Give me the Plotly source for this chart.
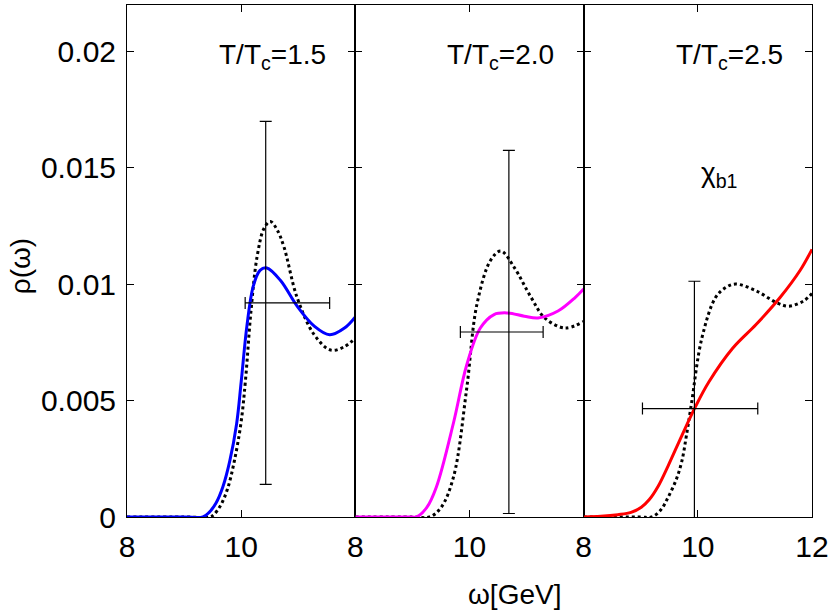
import plotly.graph_objects as go
from plotly.subplots import make_subplots

# --- data (omega in GeV, rho) ---
# T/Tc = 1.5
w_15 = [8.0, 9.0, 9.33, 9.44, 9.56, 9.68, 9.80, 9.92, 10.0, 10.1, 10.21, 10.33, 10.45,
        10.69, 10.98, 11.28, 11.55, 11.81, 12.0]
rho_15 = [0.0, 0.0, 0.0, 0.0002, 0.0006, 0.0013, 0.0024, 0.0040, 0.0058, 0.0082, 0.0099,
          0.0106, 0.0107, 0.01016, 0.00906, 0.0082, 0.00783, 0.00812, 0.0086]
w_15_free = [8.0, 9.0, 9.45, 9.52, 9.64, 9.76, 9.88, 10.0, 10.08, 10.17, 10.28, 10.40,
             10.51, 10.63, 10.75, 10.98, 11.28, 11.57, 11.81, 12.0]
rho_15_free = [0.0, 0.0, 0.0, 0.0001, 0.0005, 0.0012, 0.0024, 0.0041, 0.0060, 0.0088,
               0.0112, 0.0124, 0.0127, 0.01234, 0.0116, 0.00943, 0.00783, 0.00717,
               0.00732, 0.00769]

# T/Tc = 2.0
w_20 = [8.0, 9.0, 9.07, 9.25, 9.42, 9.72, 9.95, 10.19, 10.43, 10.66, 10.96, 11.20,
        11.55, 11.85, 12.0]
rho_20 = [0.0, 0.0, 0.0, 0.0004, 0.00129, 0.00405, 0.00652, 0.00812, 0.0087, 0.00877,
          0.00863, 0.00855, 0.00885, 0.00943, 0.0098]
w_20_free = [8.0, 9.0, 9.3, 9.5, 9.72, 9.95, 10.13, 10.37, 10.55, 10.78, 11.08, 11.32,
             11.67, 12.0]
rho_20_free = [0.0, 0.0, 0.0, 0.0004, 0.00172, 0.0055, 0.00914, 0.01103, 0.01143,
               0.01074, 0.00943, 0.00855, 0.00812, 0.0084]

# T/Tc = 2.5
w_25 = [8.0, 8.3, 8.6, 8.83, 9.01, 9.15, 9.30, 9.48, 9.72, 9.95, 10.19, 10.61, 11.02,
        11.44, 11.79, 12.0]
rho_25 = [0.0, 0.00003, 0.0001, 0.0002, 0.00042, 0.00075, 0.0013, 0.0022, 0.0035,
          0.0047, 0.00579, 0.00725, 0.00827, 0.00943, 0.01059, 0.0115]
w_25_free = [8.0, 9.0, 9.19, 9.35, 9.48, 9.62, 9.72, 9.80, 9.89, 10.07, 10.31, 10.49,
             10.66, 11.02, 11.38, 11.59, 11.85, 12.0]
rho_25_free = [0.0, 0.0, 0.0, 0.0003, 0.00085, 0.0016, 0.0024, 0.0035, 0.0049, 0.00768,
               0.00943, 0.00986, 0.01001, 0.00972, 0.00921, 0.00906, 0.00928, 0.0096]

# error bar points: one per panel
err_x = [10.43, 10.69, 9.94]
err_y = [0.0092, 0.00795, 0.00466]
err_x_minus = [0.36, 0.85, 0.91]
err_x_plus = [1.12, 0.60, 1.11]
err_y_sym = [0.0078, 0.0078, 0.00547]

panel_labels = ["T/T<sub>c</sub>=1.5", "T/T<sub>c</sub>=2.0", "T/T<sub>c</sub>=2.5"]
line_colors = ["#0000ff", "#ff00ff", "#ff0000"]

y_ticks = [0, 0.005, 0.01, 0.015, 0.02]
y_ticktext = ["0", "0.005", "0.01", "0.015", "0.02"]

FONT = "Liberation Sans, Arial, Helvetica, sans-serif"

fig = make_subplots(rows=1, cols=3, shared_yaxes=True, horizontal_spacing=0)

solid = [(w_15, rho_15), (w_20, rho_20), (w_25, rho_25)]
dotted = [(w_15_free, rho_15_free), (w_20_free, rho_20_free), (w_25_free, rho_25_free)]

for i in range(3):
    col = i + 1
    # dotted (free) curve
    fig.add_trace(go.Scatter(
        x=dotted[i][0], y=dotted[i][1], mode="lines",
        line=dict(color="black", width=3, dash="dot", shape="spline", smoothing=1.0),
        showlegend=False), row=1, col=col)
    # solid coloured curve
    fig.add_trace(go.Scatter(
        x=solid[i][0], y=solid[i][1], mode="lines",
        line=dict(color=line_colors[i], width=3, shape="spline", smoothing=1.0),
        showlegend=False), row=1, col=col)
    # error bar
    fig.add_trace(go.Scatter(
        x=[err_x[i]], y=[err_y[i]], mode="markers",
        marker=dict(size=1, color="black", opacity=0),
        error_x=dict(type="data", symmetric=False, array=[err_x_plus[i]],
                     arrayminus=[err_x_minus[i]], color="black", thickness=1.2, width=6),
        error_y=dict(type="data", array=[err_y_sym[i]], color="black",
                     thickness=1.2, width=6),
        showlegend=False), row=1, col=col)

    fig.update_xaxes(
        range=[8, 12], tickvals=[8, 10, 12] if col == 3 else [8, 10],
        ticks="inside", ticklen=7, tickwidth=1, tickcolor="black",
        showline=True, linecolor="black", linewidth=1, mirror="ticks",
        showgrid=False, zeroline=False, ticklabelstandoff=3, automargin=False,
        tickfont=dict(family=FONT, size=30, color="black"),
        row=1, col=col)
    fig.update_yaxes(
        range=[0, 0.022], tickvals=y_ticks, ticktext=y_ticktext,
        ticks="inside", ticklen=7, tickwidth=1, tickcolor="black",
        showline=True, linecolor="black", linewidth=1, mirror="ticks",
        showgrid=False, zeroline=False, showticklabels=(col == 1),
        ticklabelstandoff=4, automargin=False,
        tickfont=dict(family=FONT, size=30, color="black"),
        row=1, col=col)

    xref = "x" if col == 1 else f"x{col}"
    yref = "y" if col == 1 else f"y{col}"
    fig.add_annotation(
        x=10.55, y=0.0198, xref=xref, yref=yref, text=panel_labels[i],
        xanchor="center", yanchor="middle",
        showarrow=False, font=dict(family=FONT, size=28, color="black"))

fig.add_annotation(
    x=10.38, y=0.0147, xref="x3", yref="y3", text="χ<sub>b1</sub>",
    xanchor="center", yanchor="middle",
    showarrow=False, font=dict(family=FONT, size=28, color="black"))

# axis titles
fig.add_annotation(
    x=-0.156, y=0.49, xref="paper", yref="paper", text="ρ(ω)", textangle=-90,
    xanchor="center", yanchor="middle",
    showarrow=False, font=dict(family=FONT, size=28, color="black"))
fig.add_annotation(
    x=0.565, y=-0.151, xref="paper", yref="paper", text="ω[GeV]",
    xanchor="center", yanchor="middle",
    showarrow=False, font=dict(family=FONT, size=28, color="black"))

fig.update_layout(
    width=830, height=612,
    margin=dict(l=127, r=18, t=5, b=95),
    plot_bgcolor="white", paper_bgcolor="white",
    font=dict(family=FONT, color="black"),
)

# drop the default page margin so the figure sits at the window's corner
fig.write_html("out.html", config={"displayModeBar": False},
               post_script="document.body.style.margin='0px';")
